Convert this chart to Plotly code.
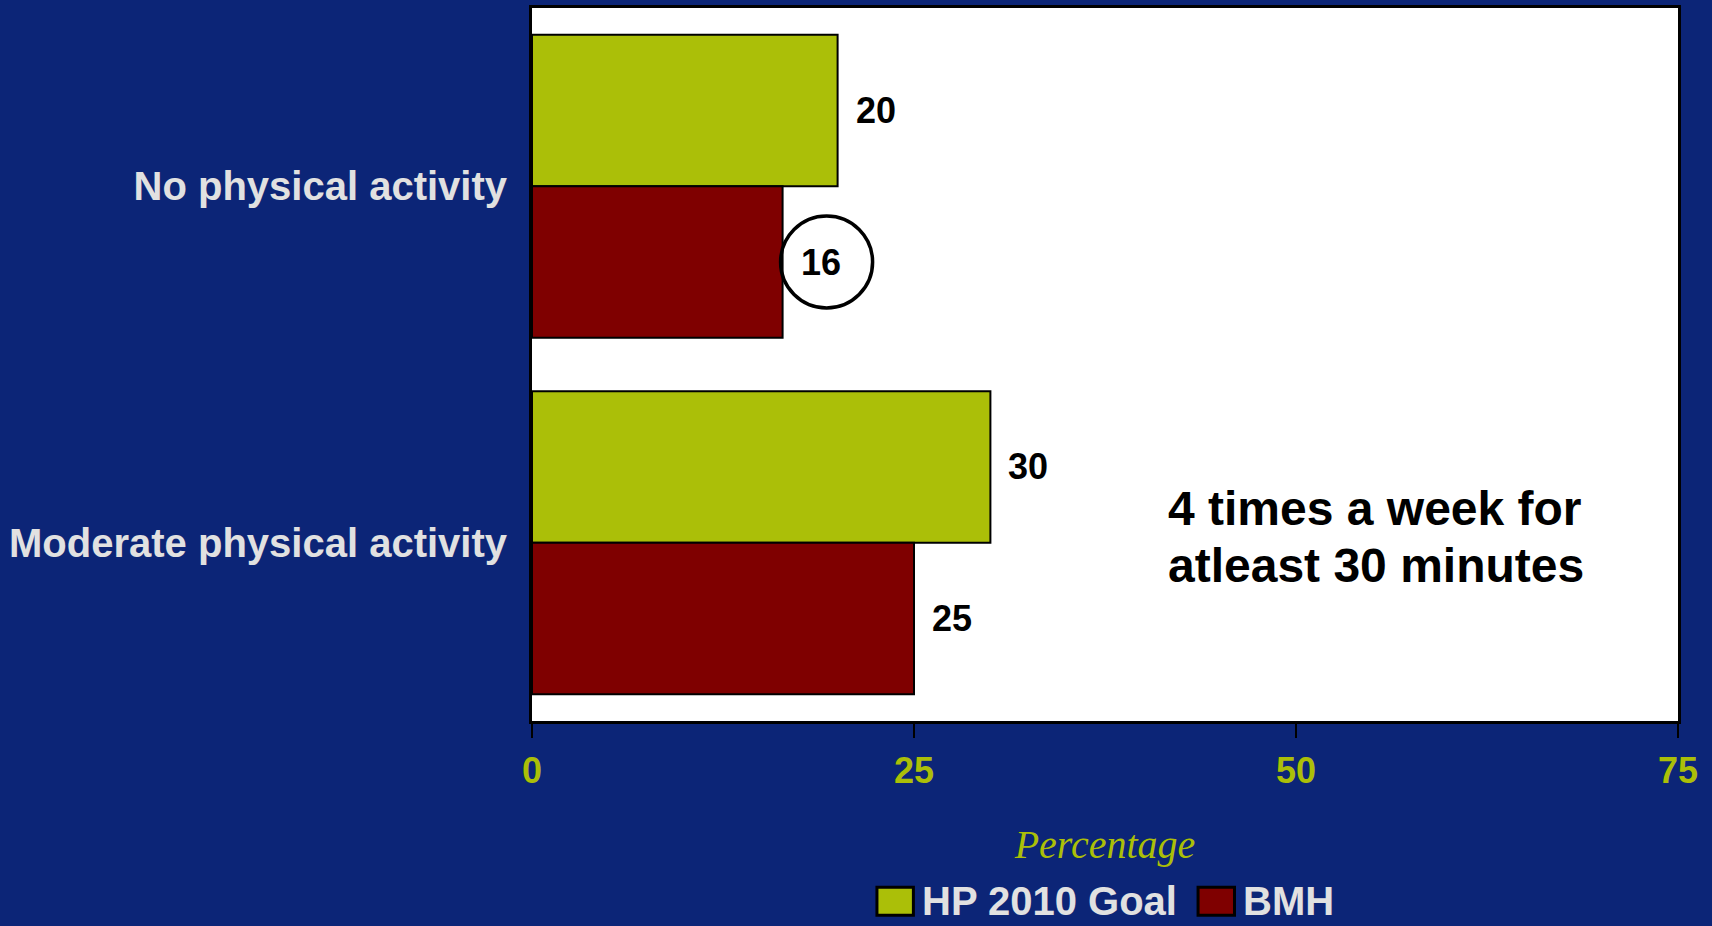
import plotly.graph_objects as go

categories = ["No physical activity", "Moderate physical activity"]
series_names = ["HP 2010 Goal", "BMH"]
hp_goal = [20, 30]
bmh = [16.4, 25]
hp_labels = ["20", "30"]
bmh_labels = ["16", "25"]
x_ticks = [0, 25, 50, 75]
note_lines = ["4 times a week for", "atleast 30 minutes"]
x_title = "Percentage"

BG = "#0C2577"
GREEN = "#ABBF08"
RED = "#7F0000"
LIGHT = "#E1E1E1"
FONT = "Liberation Sans"
bargap = 0.15
half = (1 - bargap) / 4  # center offset of each bar within a group
series_colors = [GREEN, RED]

fig = go.Figure()
fig.add_trace(go.Bar(y=categories, x=hp_goal, orientation="h", name=series_names[0],
                     showlegend=False,
                     marker=dict(color=GREEN, line=dict(color="black", width=2))))
fig.add_trace(go.Bar(y=categories, x=bmh, orientation="h", name=series_names[1],
                     showlegend=False,
                     marker=dict(color=RED, line=dict(color="black", width=2))))

annotations = []
for i in range(len(categories)):
    annotations.append(dict(x=hp_goal[i], y=i - half, xref="x", yref="y", text=hp_labels[i],
                            showarrow=False, xanchor="left", yanchor="middle", xshift=16,
                            font=dict(family=FONT, size=36, color="black", weight="bold")))
    annotations.append(dict(x=bmh[i], y=i + half, xref="x", yref="y", text=bmh_labels[i],
                            showarrow=False, xanchor="left", yanchor="middle", xshift=16,
                            font=dict(family=FONT, size=36, color="black", weight="bold")))
for line, yp in zip(note_lines, [0.2979, 0.2186]):
    annotations.append(dict(x=0.553, y=yp, xref="paper", yref="paper", text=line,
                            showarrow=False, xanchor="left", yanchor="middle", align="left",
                            font=dict(family=FONT, size=48, color="black", weight="bold")))

shapes = [dict(type="circle", xref="x", yref="y", xsizemode="pixel", ysizemode="pixel",
               xanchor=bmh[0], yanchor=0 + half, x0=-2, x1=90, y0=-46, y1=46,
               line=dict(color="black", width=3.5), fillcolor="rgba(0,0,0,0)")]

# legend (drawn as swatches + labels so it can sit at the bottom edge like the original)
legend_x = [0.301, 0.5812]
for name, col, lx in zip(series_names, series_colors, legend_x):
    shapes.append(dict(type="rect", xref="paper", yref="paper",
                       x0=lx, x1=lx + 0.0318, y0=-0.2723, y1=-0.2332,
                       fillcolor=col, line=dict(color="black", width=3)))
    annotations.append(dict(x=lx + 0.0375, y=-0.2528, xref="paper", yref="paper", text=name,
                            showarrow=False, xanchor="left", yanchor="middle",
                            font=dict(family=FONT, size=40, color=LIGHT, weight="bold")))

fig.update_layout(
    width=1712, height=926,
    paper_bgcolor=BG, plot_bgcolor="white",
    barmode="group", bargap=bargap, bargroupgap=0,
    margin=dict(l=532, r=34, t=5, b=205),
    showlegend=False,
    annotations=annotations, shapes=shapes,
)
fig.update_xaxes(range=[0, 75], tickvals=x_ticks, showgrid=False, zeroline=False,
                 showline=True, linecolor="black", linewidth=3, mirror=True,
                 ticks="outside", ticklen=14, tickcolor="black", tickwidth=1.5,
                 ticklabelstandoff=2,
                 tickfont=dict(family=FONT, size=36, color=GREEN, weight="bold"),
                 title=dict(text=x_title, standoff=40,
                            font=dict(family="Liberation Serif", size=40, color=GREEN, style="italic")))
fig.update_yaxes(autorange="reversed", showgrid=False, zeroline=False,
                 showline=True, linecolor="black", linewidth=3, mirror=True,
                 ticks="", ticklabelstandoff=14,
                 tickfont=dict(family=FONT, size=40, color=LIGHT, weight="bold"))

fig.write_html("out.html", config={"displayModeBar": False},
               post_script="document.body.style.margin='0';")
